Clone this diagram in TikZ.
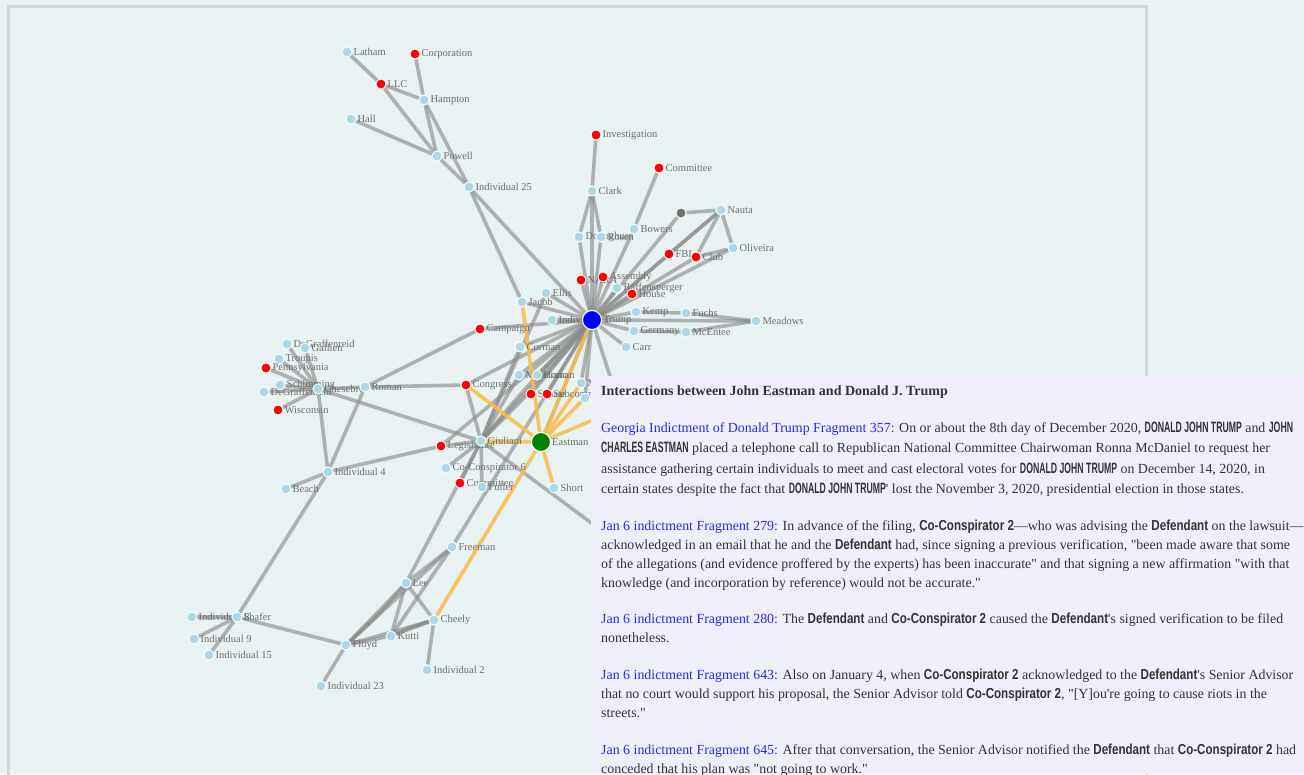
\documentclass[tikz,border=0pt]{standalone}
\usepackage{fontspec}
\setmainfont{Liberation Serif}[Ligatures=TeXOff]
\newfontfamily\capsfont[FakeStretch=0.58]{Liberation Sans}
\newfontfamily\boldfont[FakeStretch=0.8]{Liberation Sans}
\usetikzlibrary{positioning,backgrounds}

\definecolor{pagebg}{HTML}{E9F2F3}
\definecolor{framegray}{HTML}{D2D6D6}
\definecolor{panelbg}{HTML}{EFEFFB}
\definecolor{nodeblue}{HTML}{ADD8E6}
\definecolor{nodered}{HTML}{FF0000}
\definecolor{hubblue}{HTML}{0000FF}
\definecolor{hubgreen}{HTML}{008000}
\definecolor{nodegrey}{HTML}{707070}
\definecolor{linkgray}{HTML}{8A8A8A}
\definecolor{linkorange}{HTML}{F9BC48}
\definecolor{labgray}{HTML}{6E6E6E}
\definecolor{srcblue}{HTML}{2A2AE6}
\definecolor{textgray}{HTML}{333333}

% bold names in the panel: capitals and mixed case
\newcommand{\nm}[1]{{\capsfont\bfseries\fontsize{15}{18}\selectfont #1}}
\newcommand{\nmx}[1]{{\boldfont\bfseries\fontsize{14.5}{18}\selectfont #1}}
\newcommand{\src}[1]{\textcolor{srcblue}{#1}}

\pgfdeclarelayer{edgelayer}
\pgfsetlayers{background,edgelayer,main}

\tikzset{
  actor/.style={circle, draw=white, line width=0.8pt, inner sep=0pt,
    minimum size=10pt, fill=nodeblue},
  thing/.style={actor, fill=nodered},
  blank/.style={actor, fill=nodegrey},
  bighub/.style={actor, minimum size=19pt, line width=1pt},
  lab/.style={font=\fontsize{10.5}{12}\selectfont, text=labgray, inner sep=0.5pt},
  lbl/.style={label={[lab]right:#1}},
  link/.style={draw=linkgray, draw opacity=0.62, line width=3.6pt},
  hot/.style={draw=linkorange, draw opacity=0.85, line width=3.6pt},
  paratext/.style={anchor=north west, inner sep=0pt, align=left, text=textgray,
    font=\fontsize{13.9}{18.8}\selectfont},
}

\begin{document}
\begin{tikzpicture}[x=1pt, y=-1pt, label distance=0.5pt]
  \useasboundingbox (0,0) rectangle (1304,774);
  \begin{pgfonlayer}{background}
    \fill[pagebg] (0,0) rectangle (1304,774);
    \draw[framegray, line width=3pt] (8,6) rectangle (1146,800);
  \end{pgfonlayer}

  % upper left group
  \node[actor, lbl=Latham] (latham) at (347,52) {};
  \node[thing, lbl=Corporation] (corporation) at (415,54) {};
  \node[thing, lbl=LLC] (llc) at (381,84) {};
  \node[actor, lbl=Hampton] (hampton) at (424,100) {};
  \node[actor, lbl=Hall] (hall) at (351,119) {};
  \node[actor, lbl=Powell] (powell) at (437,156) {};
  \node[actor, lbl=Individual 25] (ind25) at (469,187) {};

  % around Trump
  \node[thing, lbl=Investigation] (investigation) at (596,135) {};
  \node[thing, lbl=Committee] (committee) at (659,168) {};
  \node[actor, lbl=Clark] (clark) at (592,191) {};
  \node[actor, lbl=Bowers] (bowers) at (634,229) {};
  \node[actor, lbl=Donoghue] (donoghue) at (579,237) {};
  \node[actor, lbl=Rosen] (rosen) at (601,237) {};
  \node[blank] (grey) at (681,213) {};
  \node[actor, lbl=Nauta] (nauta) at (721,210) {};
  \node[actor, lbl=Oliveira] (oliveira) at (733,248) {};
  \node[thing, lbl=FBI] (fbi) at (669,254) {};
  \node[thing, lbl=Club] (club) at (696,257) {};
  \node[thing, lbl=NARA] (nara) at (581,280) {};
  \node[thing, lbl=Assembly] (assembly) at (603,277) {};
  \node[actor, lbl=Raffensperger] (raffensperger) at (617,288) {};
  \node[thing, lbl=House] (house) at (632,294) {};
  \node[actor, lbl=Ellis] (ellis) at (546,293) {};
  \node[actor, lbl=Jacob] (jacob) at (522,302) {};
  \node[actor, lbl=Individual 1] (indiv) at (552,320) {};
  \node[thing, lbl=Campaign] (campaign) at (480,329) {};
  \node[actor, lbl=Kemp] (kemp) at (636,312) {};
  \node[actor, lbl=Fuchs] (fuchs) at (686,313) {};
  \node[actor, lbl=Meadows] (meadows) at (756,321) {};
  \node[actor, lbl=Germany] (germany) at (634,331) {};
  \node[actor, lbl=McEntee] (mcentee) at (686,332) {};
  \node[actor, lbl=Carr] (carr) at (626,347) {};
  \node[actor, lbl=Corman] (corman) at (520,347) {};
  \node[actor, lbl=Mastriano] (mastriano) at (519,375) {};
  \node[actor, lbl=Homan] (homan) at (537,375) {};
  \node[thing, lbl=Congress] (congress) at (466,385) {};
  \node[thing, lbl=Senate] (senate) at (531,394) {};
  \node[thing, lbl=Subcommittee] (subcomm) at (547,394) {};
  \node[actor, lbl=McDaniel] (mcdaniel) at (581,383) {};
  \node[actor, lbl=Pence] (pence) at (585,398) {};
  \node[bighub, fill=hubblue, lbl=Trump] (trump) at (592,320) {};

  % left group
  \node[actor, lbl=DeGraffenreid] (degraffa) at (287,344) {};
  \node[actor, lbl=Gallien] (gallien) at (305,348) {};
  \node[actor, lbl=Troupis] (troupis) at (279,359) {};
  \node[thing, lbl=Pennsylvania] (pennsylvania) at (266,368) {};
  \node[actor, lbl=Schimming] (schimming) at (280,385) {};
  \node[actor, lbl=DeGraffenreid] (degraffb) at (264,392) {};
  \node[thing, lbl=Wisconsin] (wisconsin) at (278,410) {};
  \node[actor, lbl=Chesebro] (chesebro) at (318,389) {};
  \node[actor, lbl=Roman] (roman) at (365,387) {};
  \node[actor, lbl=Individual 4] (ind4) at (328,472) {};
  \node[actor, lbl=Beach] (beach) at (286,489) {};

  % Giuliani and Eastman
  \node[thing, lbl=Legislature] (legislature) at (441,446) {};
  \node[actor, lbl=Giuliani] (giuliani) at (481,441) {};
  \node[actor, lbl=Co-Conspirator 6] (cocon6) at (446,468) {};
  \node[thing, lbl=Committee] (committeeb) at (460,483) {};
  \node[actor, lbl=Fuller] (fuller) at (482,487) {};
  \node[actor, lbl=Short] (short) at (554,488) {};
  \node[bighub, fill=hubgreen, lbl=Eastman] (eastman) at (541,442) {};

  % lower group
  \node[actor, lbl=Freeman] (freeman) at (452,547) {};
  \node[actor, lbl=Lee] (lee) at (406,583) {};
  \node[actor, lbl=Cheely] (cheely) at (434,620) {};
  \node[actor, lbl=Kutti] (kutti) at (391,636) {};
  \node[actor, lbl=Floyd] (floyd) at (346,645) {};
  \node[actor, lbl=Individual 2] (ind2) at (427,670) {};
  \node[actor, lbl=Individual 23] (ind23) at (321,686) {};
  \node[actor, lbl=Individual 8] (ind8) at (192,617) {};
  \node[actor, lbl=Shafer] (shafer) at (237,617) {};
  \node[actor, lbl=Individual 9] (ind9) at (194,639) {};
  \node[actor, lbl=Individual 15] (ind15) at (209,655) {};

  % ends that run under the panel
  \coordinate (offa) at (640,470);
  \coordinate (offb) at (625,548);
  \coordinate (offc) at (640,400);

  \begin{pgfonlayer}{edgelayer}
    \path[link] (latham) edge (llc)
      (llc) edge (hampton) edge (powell)
      (corporation) edge (hampton)
      (hampton) edge (powell) edge (ind25)
      (hall) edge (powell)
      (powell) edge (ind25)
      (ind25) edge (jacob) edge (trump)
      (investigation) edge (clark)
      (clark) edge (donoghue) edge (rosen)
      (committee) edge (bowers)
      (grey) edge (nauta)
      (nauta) edge (oliveira) edge (fbi) edge (club) edge (trump)
      (oliveira) edge (club)
      (kemp) edge (fuchs)
      (fuchs) edge (meadows)
      (germany) edge (mcentee)
      (mcentee) edge (meadows)
      (campaign) edge (roman);
    \path[link] (trump) edge (clark) edge (donoghue) edge (rosen) edge (bowers)
      edge (grey) edge (fbi) edge (club) edge (oliveira) edge (nara)
      edge (assembly) edge (raffensperger) edge (house) edge (ellis)
      edge (jacob) edge (indiv) edge (campaign) edge (kemp) edge (germany)
      edge (meadows) edge (carr) edge (corman) edge (mastriano) edge (homan)
      edge (senate) edge (subcomm) edge (congress) edge (mcdaniel) edge (pence)
      edge (eastman) edge (giuliani) edge (legislature) edge (freeman)
      edge (offa);
    \path[link] (trump) edge[bend left=3] (giuliani) edge[bend right=3] (giuliani);
    \path[link] (chesebro) edge (degraffa) edge (gallien) edge (troupis)
      edge (pennsylvania) edge (schimming) edge (degraffb) edge (wisconsin)
      edge (roman) edge (ind4) edge (giuliani)
      (roman) edge (congress) edge (ind4)
      (ind4) edge (legislature) edge (beach) edge (shafer)
      (giuliani) edge (congress) edge (corman) edge (mastriano) edge (ellis)
      edge (legislature) edge (cocon6) edge (committeeb) edge (fuller)
      edge (lee) edge (offb)
      (shafer) edge (ind8) edge (ind9) edge (ind15) edge (floyd)
      (freeman) edge (lee) edge (floyd) edge (kutti)
      (lee) edge (floyd) edge[bend left=4] (floyd) edge (kutti) edge (cheely)
      (kutti) edge (cheely) edge[bend left=4] (cheely) edge (floyd)
      (floyd) edge (cheely) edge (ind23)
      (cheely) edge (ind2);
    \path[hot] (eastman) edge (trump) edge (jacob) edge (congress)
      edge (giuliani) edge (short) edge (cheely) edge (mcdaniel)
      edge (pence) edge (offc);
  \end{pgfonlayer}

  % side panel
  \fill[panelbg] (591,376) rectangle (1304,774);
  \node[anchor=base west, inner sep=0pt, text=textgray,
    font=\fontsize{14}{16}\selectfont\bfseries] (title) at (601,395)
    {Interactions between John Eastman and Donald J. Trump};
  \node[paratext, font=\fontsize{13.9}{20.3}\selectfont] (frag357) at (601,422)
    {\src{Georgia Indictment of Donald Trump Fragment 357:} On or about the 8th day of December 2020, \nm{DONALD JOHN TRUMP} and \nm{JOHN}\\
     \nm{CHARLES EASTMAN} placed a telephone call to Republican National Committee Chairwoman Ronna McDaniel to request her\\
     assistance gathering certain individuals to meet and cast electoral votes for \nm{DONALD JOHN TRUMP} on December 14, 2020, in\\
     certain states despite the fact that \nm{DONALD JOHN TRUMP}' lost the November 3, 2020, presidential election in those states.};
  \node[paratext] (frag279) at (601,520)
    {\src{Jan 6 indictment Fragment 279:} In advance of the filing, \nmx{Co-Conspirator 2}—who was advising the \nmx{Defendant} on the lawsuit—\\
     acknowledged in an email that he and the \nmx{Defendant} had, since signing a previous verification, "been made aware that some\\
     of the allegations (and evidence proffered by the experts) has been inaccurate" and that signing a new affirmation "with that\\
     knowledge (and incorporation by reference) would not be accurate."};
  \node[paratext] (frag280) at (601,613)
    {\src{Jan 6 indictment Fragment 280:} The \nmx{Defendant} and \nmx{Co-Conspirator 2} caused the \nmx{Defendant}'s signed verification to be filed\\
     nonetheless.};
  \node[paratext] (frag643) at (601,669)
    {\src{Jan 6 indictment Fragment 643:} Also on January 4, when \nmx{Co-Conspirator 2} acknowledged to the \nmx{Defendant}'s Senior Advisor\\
     that no court would support his proposal, the Senior Advisor told \nmx{Co-Conspirator 2}, "[Y]ou're going to cause riots in the\\
     streets."};
  \node[paratext] (frag645) at (601,744)
    {\src{Jan 6 indictment Fragment 645:} After that conversation, the Senior Advisor notified the \nmx{Defendant} that \nmx{Co-Conspirator 2} had\\
     conceded that his plan was "not going to work."};
\end{tikzpicture}
\end{document}
